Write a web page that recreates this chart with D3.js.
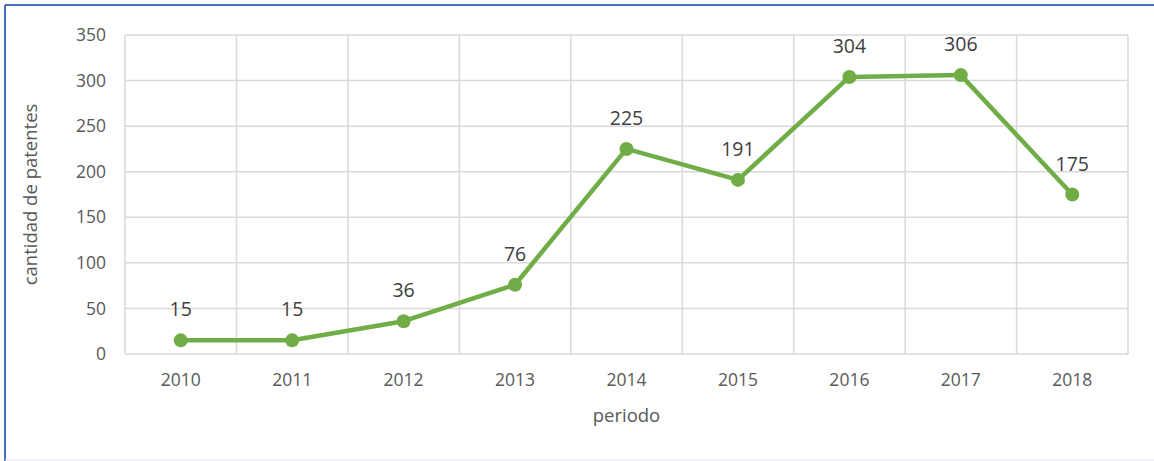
<!DOCTYPE html>
<html>
<head>
<meta charset="utf-8">
<script src="https://cdn.jsdelivr.net/npm/d3@7"></script>
<style>
  html, body { margin: 0; padding: 0; background: #fff; }
  svg { display: block; font-family: "Open Sans", "Noto Sans", sans-serif; }
</style>
</head>
<body>
<svg id="chart" width="1154" height="461"></svg>
<script>
// Patent counts per year
const years = ["2010", "2011", "2012", "2013", "2014", "2015", "2016", "2017", "2018"];
const patents = [15, 15, 36, 76, 225, 191, 304, 306, 175];
const yTicks = [0, 50, 100, 150, 200, 250, 300, 350];

const svg = d3.select("#chart");
const W = 1154, H = 461;
const plot = { left: 125, right: 1128, top: 35, bottom: 354 };

// Outer frame
svg.append("line").attr("x1", 5).attr("x2", W).attr("y1", 5).attr("y2", 5)
  .attr("stroke", "#4a6fb5").attr("stroke-width", 2);
svg.append("line").attr("x1", 5).attr("x2", 5).attr("y1", 5).attr("y2", H)
  .attr("stroke", "#4a6fb5").attr("stroke-width", 2);
svg.append("line").attr("x1", 5).attr("x2", W).attr("y1", 460).attr("y2", 460)
  .attr("stroke", "#e4e4f0").attr("stroke-width", 1);

const x = d3.scaleBand().domain(years).range([plot.left, plot.right]).padding(0);
const y = d3.scaleLinear().domain([0, 350]).range([plot.bottom, plot.top]);

// Horizontal gridlines
svg.append("g").selectAll("line").data(yTicks).join("line")
  .attr("x1", plot.left).attr("x2", plot.right)
  .attr("y1", d => y(d)).attr("y2", d => y(d))
  .attr("stroke", "#d9d9d9").attr("stroke-width", 1.5);

// Vertical gridlines at category boundaries
const bounds = years.map(d => x(d)).concat([plot.right]);
svg.append("g").selectAll("line").data(bounds).join("line")
  .attr("x1", d => d).attr("x2", d => d)
  .attr("y1", plot.top).attr("y2", plot.bottom)
  .attr("stroke", "#d9d9d9").attr("stroke-width", 1.5);

// Y axis labels
const yAxis = d3.axisLeft(y).tickValues(yTicks).tickSize(0).tickPadding(19);
const gy = svg.append("g").attr("transform", `translate(${plot.left},0)`).call(yAxis);
gy.select(".domain").remove();
gy.selectAll("text").attr("fill", "#595959").style("font-size", "17.5px")
  .style("font-family", "'Open Sans', sans-serif");

// X axis labels
const xAxis = d3.axisBottom(x).tickSize(0).tickPadding(20);
const gx = svg.append("g").attr("transform", `translate(0,${plot.bottom})`).call(xAxis);
gx.select(".domain").remove();
gx.selectAll("text").attr("fill", "#595959").style("font-size", "17.5px")
  .style("font-family", "'Open Sans', sans-serif");

// Axis titles
svg.append("text").attr("transform", `translate(37,${(plot.top + plot.bottom) / 2}) rotate(-90)`)
  .attr("text-anchor", "middle").attr("fill", "#595959").style("font-size", "18.5px")
  .text("cantidad de patentes");
svg.append("text").attr("x", (plot.left + plot.right) / 2).attr("y", 422)
  .attr("text-anchor", "middle").attr("fill", "#595959").style("font-size", "18.5px")
  .text("periodo");

// Series line
const cx = d => x(d) + x.bandwidth() / 2;
const line = d3.line().x((d, i) => cx(years[i])).y(d => y(d));
svg.append("path").datum(patents).attr("d", line)
  .attr("fill", "none").attr("stroke", "#70ad47").attr("stroke-width", 4.5)
  .attr("stroke-linejoin", "round");

// Markers
svg.append("g").selectAll("circle").data(patents).join("circle")
  .attr("cx", (d, i) => cx(years[i])).attr("cy", d => y(d)).attr("r", 7)
  .attr("fill", "#70ad47");

// Data labels
svg.append("g").selectAll("text").data(patents).join("text")
  .attr("x", (d, i) => cx(years[i])).attr("y", d => y(d) - 24)
  .attr("text-anchor", "middle").attr("fill", "#404040").style("font-size", "19.5px")
  .text(d => d);
</script>
</body>
</html>
